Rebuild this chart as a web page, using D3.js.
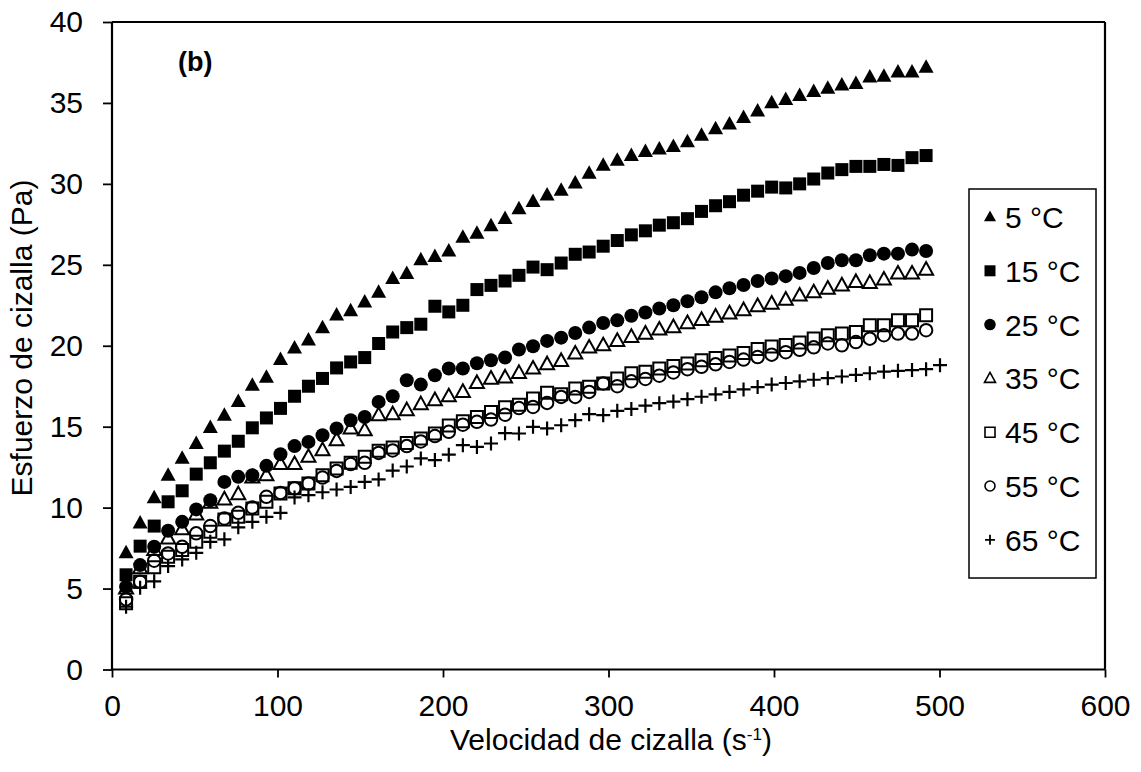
<!DOCTYPE html>
<html>
<head>
<meta charset="utf-8">
<script src="https://cdn.jsdelivr.net/npm/d3@7"></script>
<style>
  html, body { margin: 0; padding: 0; background: #fff; }
  svg { display: block; }
  text { font-family: "Liberation Sans", Arial, sans-serif; fill: #000; }
</style>
</head>
<body>
<svg id="chart" width="1141" height="772"></svg>
<script>
// ---- data ----
const shearRate = [8.5, 17.0, 25.5, 33.9, 42.4, 50.9, 59.4, 67.9, 76.3, 84.8,
  93.3, 101.8, 110.3, 118.7, 127.2, 135.7, 144.2, 152.7, 161.1, 169.6,
  178.1, 186.6, 195.1, 203.5, 212.0, 220.5, 229.0, 237.5, 245.9, 254.4,
  262.9, 271.4, 279.9, 288.3, 296.8, 305.3, 313.8, 322.3, 330.7, 339.2,
  347.7, 356.2, 364.7, 373.1, 381.6, 390.1, 398.6, 407.1, 415.5, 424.0,
  432.5, 441.0, 449.5, 457.9, 466.4, 474.9, 483.4, 491.9];
const shearRate65 = [8.5, 17.0, 25.5, 33.9, 42.4, 50.9, 59.4, 67.9, 76.3, 84.8,
  93.3, 101.8, 110.3, 118.7, 127.2, 135.7, 144.2, 152.7, 161.1, 169.6,
  178.1, 186.6, 195.1, 203.5, 212.0, 220.5, 229.0, 237.5, 245.9, 254.4,
  262.9, 271.4, 279.9, 288.3, 296.8, 305.3, 313.8, 322.3, 330.7, 339.2,
  347.7, 356.2, 364.7, 373.1, 381.6, 390.1, 398.6, 407.1, 415.5, 424.0,
  432.5, 441.0, 449.5, 457.9, 466.4, 474.9, 483.4, 491.9, 500.3];

const t5 = [7.2, 9.05, 10.6, 12.0, 13.05, 13.95, 14.95, 15.7, 16.55, 17.55,
  18.05, 19.15, 19.85, 20.35, 21.1, 21.9, 22.15, 22.7, 23.3, 24.15,
  24.45, 25.3, 25.5, 25.85, 26.7, 26.95, 27.4, 27.85, 28.45, 28.9,
  29.3, 29.6, 30.05, 30.65, 31.15, 31.45, 31.75, 32.0, 32.15, 32.3,
  32.6, 33.0, 33.4, 33.7, 34.1, 34.5, 35.0, 35.2, 35.45, 35.7,
  35.9, 36.1, 36.2, 36.6, 36.65, 36.9, 36.9, 37.2];
const t15 = [5.85, 7.62, 8.86, 10.36, 11.04, 12.07, 12.77, 13.49, 14.1, 14.93,
  15.54, 16.13, 16.88, 17.5, 17.98, 18.63, 19.0, 19.27, 20.14, 20.85,
  21.12, 21.33, 22.44, 22.09, 22.5, 23.47, 23.73, 24.0, 24.35, 24.86,
  24.7, 25.11, 25.65, 25.79, 26.15, 26.5, 26.85, 27.1, 27.45, 27.6,
  27.85, 28.3, 28.65, 28.9, 29.3, 29.55, 29.8, 29.75, 30.0, 30.3,
  30.67, 30.88, 31.08, 31.08, 31.2, 31.14, 31.62, 31.75];
const t25 = [5.11, 6.45, 7.58, 8.57, 9.12, 9.89, 10.46, 11.59, 11.9, 12.0,
  12.58, 13.3, 13.8, 14.06, 14.47, 14.89, 15.4, 15.6, 16.53, 16.88,
  17.87, 17.6, 18.18, 18.59, 18.59, 18.92, 19.1, 19.27, 19.77, 19.97,
  20.3, 20.5, 20.79, 21.12, 21.41, 21.57, 21.85, 22.05, 22.3, 22.5,
  22.75, 23.0, 23.3, 23.55, 23.75, 24.0, 24.15, 24.3, 24.5, 24.8,
  25.11, 25.28, 25.28, 25.59, 25.69, 25.69, 25.94, 25.85];
const t35 = [5.01, 6.25, 7.38, 8.1, 8.66, 9.58, 10.3, 10.51, 10.83, 11.86,
  12.0, 12.69, 12.69, 13.14, 13.55, 14.17, 14.89, 14.78, 15.71, 15.77,
  16.02, 16.39, 16.64, 16.88, 17.15, 17.7, 17.97, 18.04, 18.32, 18.59,
  18.86, 19.06, 19.52, 19.89, 20.03, 20.3, 20.55, 20.75, 21.0, 21.15,
  21.4, 21.6, 21.8, 22.0, 22.2, 22.45, 22.6, 22.85, 23.1, 23.3,
  23.53, 23.73, 23.94, 23.88, 24.09, 24.46, 24.46, 24.7];
const t45 = [4.09, 5.42, 6.31, 6.96, 7.38, 7.89, 8.51, 9.27, 9.43, 9.95,
  10.36, 10.88, 11.19, 11.49, 12.0, 12.42, 12.77, 13.14, 13.51, 13.72,
  14.0, 14.27, 14.58, 15.08, 15.33, 15.6, 15.91, 16.2, 16.36, 16.74,
  17.09, 17.0, 17.36, 17.46, 17.67, 17.97, 18.3, 18.4, 18.6, 18.75,
  18.9, 19.1, 19.25, 19.4, 19.55, 19.8, 19.95, 20.05, 20.2, 20.45,
  20.65, 20.75, 20.85, 21.27, 21.27, 21.57, 21.57, 21.88];
const t55 = [4.33, 5.42, 6.72, 7.17, 7.58, 8.41, 8.86, 9.33, 9.68, 10.01,
  10.67, 10.91, 11.19, 11.49, 11.86, 12.27, 12.69, 12.77, 13.38, 13.53,
  13.8, 14.09, 14.42, 14.68, 15.12, 15.3, 15.44, 15.74, 16.15, 16.22,
  16.47, 16.84, 16.84, 17.15, 17.67, 17.5, 17.8, 17.95, 18.15, 18.35,
  18.55, 18.7, 18.85, 19.0, 19.15, 19.3, 19.45, 19.6, 19.75, 19.9,
  20.14, 20.03, 20.23, 20.44, 20.65, 20.75, 20.75, 20.96];
const t65 = [3.88, 5.05, 5.45, 6.39, 6.8, 7.21, 7.89, 8.04, 8.78, 9.12,
  9.43, 9.68, 10.63, 10.77, 10.95, 11.12, 11.28, 11.59, 11.74, 12.29,
  12.54, 13.04, 12.94, 13.27, 13.86, 13.75, 13.96, 14.6, 14.58, 14.99,
  14.89, 15.09, 15.4, 15.77, 15.71, 15.98, 16.1, 16.3, 16.45, 16.55,
  16.7, 16.85, 17.0, 17.15, 17.3, 17.45, 17.6, 17.7, 17.8, 17.9,
  18.0, 18.1, 18.2, 18.3, 18.4, 18.45, 18.5, 18.55, 18.8];

const seriesNames = ["5 °C", "15 °C", "25 °C", "35 °C", "45 °C", "55 °C", "65 °C"];
const xTicks = [0, 100, 200, 300, 400, 500, 600];
const yTicks = [0, 5, 10, 15, 20, 25, 30, 35, 40];

// ---- chart ----
const svg = d3.select("#chart");
const x = d3.scaleLinear().domain([0, 600]).range([112, 1105]);
const y = d3.scaleLinear().domain([0, 40]).range([669.5, 22]);

const series = [
  { name: seriesNames[0], xs: shearRate, ys: t5, shape: "triUp", fill: true },
  { name: seriesNames[1], xs: shearRate, ys: t15, shape: "square", fill: true },
  { name: seriesNames[2], xs: shearRate, ys: t25, shape: "circle", fill: true },
  { name: seriesNames[3], xs: shearRate, ys: t35, shape: "triUp", fill: false },
  { name: seriesNames[4], xs: shearRate, ys: t45, shape: "square", fill: false },
  { name: seriesNames[5], xs: shearRate, ys: t55, shape: "circle", fill: false },
  { name: seriesNames[6], xs: shearRate65, ys: t65, shape: "plus", fill: false }
];

function markerPath(shape, s) {
  if (shape === "triUp") {
    const h = s * 0.9;
    return `M0,${-h * 0.6}L${s / 2},${h * 0.4}L${-s / 2},${h * 0.4}Z`;
  }
  if (shape === "square") {
    const r = s / 2;
    return `M${-r},${-r}H${r}V${r}H${-r}Z`;
  }
  if (shape === "circle") {
    const r = s / 2;
    return `M${r},0A${r},${r} 0 1,1 ${-r},0A${r},${r} 0 1,1 ${r},0Z`;
  }
  const r = s / 2;
  return `M${-r},0H${r}M0,${-r}V${r}`;
}

function drawMarker(g, d, shape, fill, big) {
  let size, sw;
  if (shape === "triUp") { size = fill ? (big ? 15 : 12) : (big ? 14 : 11); }
  else if (shape === "square") { size = fill ? (big ? 13 : 11) : (big ? 12 : 10); }
  else if (shape === "circle") { size = fill ? (big ? 14 : 11.5) : (big ? 12.5 : 10); }
  else { size = big ? 14 : 10; }
  sw = shape === "plus" ? (big ? 2.2 : 1.8) : (fill ? 0 : (big ? 2 : 1.6));
  g.append("path")
    .attr("d", markerPath(shape, size))
    .attr("transform", `translate(${d[0]},${d[1]})`)
    .attr("fill", fill ? "#000" : "none")
    .attr("stroke", fill ? "none" : "#000")
    .attr("stroke-width", sw);
}

// points
const plot = svg.append("g");
series.forEach(s => {
  const g = plot.append("g");
  s.ys.forEach((v, i) => {
    drawMarker(g, [x(s.xs[i]), y(v)], s.shape, s.fill, true);
  });
});

// axes via d3
const xAxis = d3.axisBottom(x).tickValues(xTicks).tickSize(8).tickPadding(17)
  .tickFormat(d3.format("d"));
const yAxis = d3.axisLeft(y).tickValues(yTicks).tickSize(9).tickPadding(20)
  .tickFormat(d3.format("d"));

const gx = svg.append("g").attr("transform", "translate(0,669.5)").call(xAxis);
const gy = svg.append("g").attr("transform", "translate(112,0)").call(yAxis);
[gx, gy].forEach(g => {
  g.select(".domain").attr("stroke", "#000").attr("stroke-width", 2.2);
  g.selectAll(".tick line").attr("stroke", "#000").attr("stroke-width", 1.8);
  g.selectAll(".tick text").attr("font-size", 30).attr("fill", "#000")
    .attr("font-family", "Liberation Sans, Arial, sans-serif");
});
gx.select(".domain").attr("d", `M112,0H1105`);
gy.select(".domain").attr("d", `M0,669.5V22`);

// top & right frame
svg.append("line").attr("x1", 112).attr("x2", 1105).attr("y1", 22).attr("y2", 22)
  .attr("stroke", "#000").attr("stroke-width", 2.2);
svg.append("line").attr("x1", 1105).attr("x2", 1105).attr("y1", 22).attr("y2", 669.5)
  .attr("stroke", "#000").attr("stroke-width", 2.2);

// axis titles
const xt = svg.append("text").attr("x", 611).attr("y", 750).attr("text-anchor", "middle")
  .attr("font-size", 30);
xt.append("tspan").text("Velocidad de cizalla (s");
xt.append("tspan").attr("font-size", 17).attr("dy", -10).text("-1");
xt.append("tspan").attr("dy", 10).text(")");

svg.append("text").attr("transform", "translate(32,338) rotate(-90)")
  .attr("text-anchor", "middle").attr("font-size", 30)
  .text("Esfuerzo de cizalla (Pa)");

// panel label
svg.append("text").attr("x", 178).attr("y", 71).attr("font-size", 27)
  .attr("font-weight", "bold").text("(b)");

// legend
const lg = svg.append("g");
lg.append("rect").attr("x", 969).attr("y", 189).attr("width", 127).attr("height", 389)
  .attr("fill", "#fff").attr("stroke", "#000").attr("stroke-width", 1.5);
series.forEach((s, i) => {
  const cy = 217 + i * 53.8;
  drawMarker(lg, [990, cy], s.shape, s.fill, false);
  lg.append("text").attr("x", 1005).attr("y", cy + 11).attr("font-size", 30).text(s.name);
});
</script>
</body>
</html>
